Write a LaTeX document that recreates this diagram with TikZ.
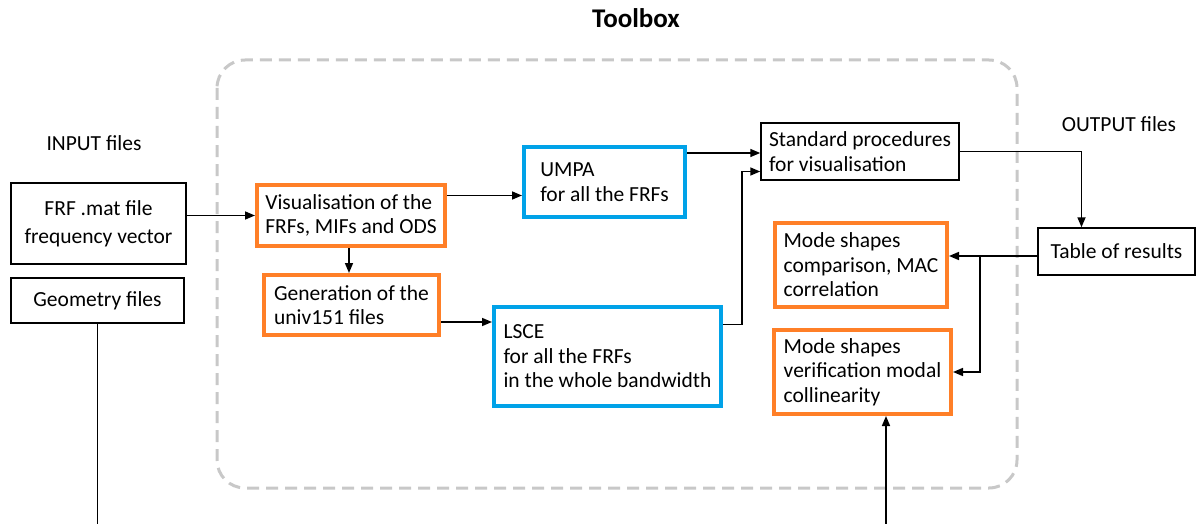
\documentclass[tikz,border=0pt]{standalone}
\usepackage{fontspec}
\setmainfont{Carlito}
\usetikzlibrary{arrows.meta,calc}
\definecolor{orng}{RGB}{255,127,39}
\definecolor{blu}{RGB}{0,162,232}
\definecolor{dgray}{RGB}{200,200,200}
\tikzset{
  every node/.style={font=\fontsize{21.5}{24.5}\selectfont},
  plainbox/.style={draw=black, line width=1.5pt, inner sep=0pt, align=left},
  orangebox/.style={draw=orng, line width=4pt, inner sep=0pt, align=left},
  bluebox/.style={draw=blu, line width=4pt, inner sep=0pt, align=left},
  conn/.style={line width=1.6pt, draw=black},
  arr/.style={conn, -{Triangle[length=10pt,width=8pt]}},
}
\begin{document}
\begin{tikzpicture}[x=1pt,y=-1pt]
\useasboundingbox (0,0) rectangle (1196,524);
% toolbox frame
\draw[dgray, line width=3pt, dash pattern=on 12pt off 7pt, rounded corners=28pt] (217,60) rectangle (1017,488);
\node[font=\fontsize{27}{30}\selectfont\bfseries] (title) at (636,18) {Toolbox};
\node (inlbl) at (94,143) {INPUT files};
\node (outlbl) at (1119,124) {OUTPUT files};
% input boxes
\node[plainbox, align=center, minimum width=175pt, minimum height=81pt, font=\fontsize{21.5}{28}\selectfont] (frf) at (98.5,223.5) {FRF .mat file\\frequency vector};
\node[plainbox, align=center, minimum width=173pt, minimum height=45pt] (geo) at (97.5,300.5) {Geometry files};
% toolbox boxes
\node[orangebox, minimum width=188pt, minimum height=61pt] (vis) at (351,215.5) {Visualisation of the\\FRFs, MIFs and ODS};
\node[orangebox, minimum width=175pt, minimum height=60pt] (gen) at (351.5,305) {Generation of the\\univ151 files};
\node[bluebox, minimum width=161pt, minimum height=70pt] (umpa) at (604.5,182) {UMPA\\for all the FRFs};
\node[bluebox, minimum width=227pt, minimum height=99pt] (lsce) at (607.5,356.5) {LSCE\\for all the FRFs\\in the whole bandwidth};
\node[plainbox, minimum width=198pt, minimum height=57pt] (std) at (860,151.5) {Standard procedures\\for visualisation};
\node[orangebox, minimum width=172pt, minimum height=84pt] (mode1) at (861,265) {Mode shapes\\comparison, MAC\\correlation};
\node[orangebox, minimum width=177pt, minimum height=84pt] (mode2) at (862.5,372) {Mode shapes\\verification modal\\collinearity};
\node[plainbox, minimum width=157pt, minimum height=47pt] (table) at (1116.5,251.5) {Table of results};
% coordinates
\coordinate (bot1) at (98,524);
\coordinate (bot2) at (886,524);
\coordinate (br) at (980,256);
% connectors
\draw[arr] (vis.west -| frf.east) -- (vis.west);
\draw[arr] (vis.south -| 349,0) -- (gen.north -| 349,0);
\draw[arr] ([yshift=20pt]vis.east) -- ([yshift=20pt]vis.east -| umpa.west);
\draw[arr] ([yshift=-17pt]gen.east) -- ([yshift=-17pt]gen.east -| lsce.west);
\draw[arr] ([yshift=29pt]umpa.east) -- ([yshift=29pt]umpa.east -| std.west);
\draw[arr] ([yshift=32pt]lsce.east) -- ++(19,0) |- ([yshift=-20pt]std.west);
\draw[arr] (std.east) -| ([xshift=-35pt]table.north);
\draw[arr] (br -| table.west) -- (br -| mode1.east);
\draw[arr] (br) |- (mode2.east);
\draw[arr] (bot2) -- (bot2 |- mode2.south);
\draw[conn] (geo.south) -- (geo.south |- bot1);
\end{tikzpicture}
\end{document}
